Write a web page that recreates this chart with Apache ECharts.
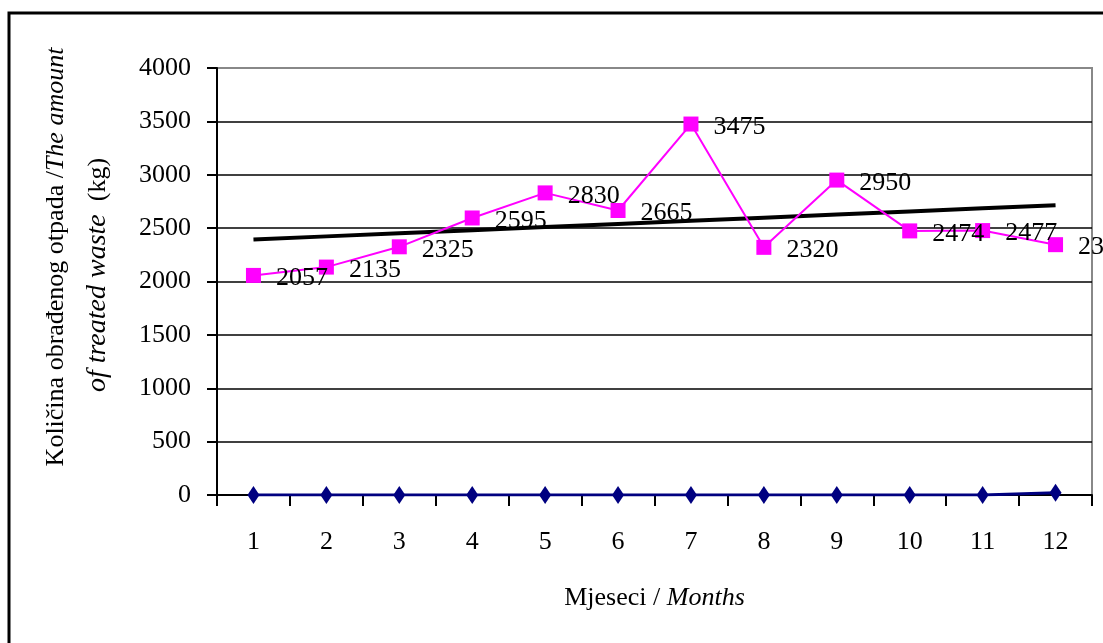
<!DOCTYPE html>
<html>
<head>
<meta charset="utf-8">
<script src="https://cdn.jsdelivr.net/npm/echarts@6/dist/echarts.min.js"></script>
<style>
  html, body { margin: 0; padding: 0; background: #fff; }
  #chart { width: 1103px; height: 643px; }
</style>
</head>
<body>
<div id="chart"></div>
<script>
  const months = ['1', '2', '3', '4', '5', '6', '7', '8', '9', '10', '11', '12']
  const treated = [2057, 2135, 2325, 2595, 2830, 2665, 3475, 2320, 2950, 2474, 2477, 2345]
  const other = [0, 0, 0, 0, 0, 0, 0, 0, 0, 0, 0, 20]
  const yTicks = [0, 500, 1000, 1500, 2000, 2500, 3000, 3500, 4000]

  // linear trend (least squares) of the treated series
  const n = treated.length
  const xs = treated.map((v, i) => i + 1)
  const mx = xs.reduce((a, b) => a + b, 0) / n
  const my = treated.reduce((a, b) => a + b, 0) / n
  let sxy = 0, sxx = 0
  xs.forEach((x, i) => { sxy += (x - mx) * (treated[i] - my); sxx += (x - mx) * (x - mx) })
  const slope = sxy / sxx
  const trend = xs.map(x => my + slope * (x - mx))

  const font = '"Liberation Serif", "Times New Roman", serif'
  const myChart = echarts.init(document.getElementById('chart'))
  const option = {
    animation: false,
    textStyle: { fontFamily: font },
    graphic: [
      {
        type: 'rect',
        shape: { x: 9, y: 13, width: 1300, height: 1000 },
        style: { fill: 'none', stroke: '#000', lineWidth: 3 },
        silent: true,
      },
    ],
    grid: {
      left: 217,
      right: 11,
      top: 68,
      bottom: 148,
      show: true,
      borderColor: '#888',
      borderWidth: 2,
      backgroundColor: '#fff',
    },
    xAxis: {
      type: 'category',
      data: months,
      boundaryGap: true,
      axisLine: { show: true, lineStyle: { color: '#000', width: 2 } },
      axisTick: { show: true, inside: false, length: 11, lineStyle: { color: '#000', width: 2 } },
      axisLabel: { color: '#000', fontSize: 26, fontFamily: font, margin: 34 },
      name: '{n|Mjeseci / }{i|Months}',
      nameLocation: 'middle',
      nameGap: 90,
      nameTextStyle: {
        rich: {
          n: { fontSize: 26, fontFamily: font, color: '#000' },
          i: { fontSize: 26, fontFamily: font, fontStyle: 'italic', color: '#000' },
        },
      },
    },
    yAxis: {
      type: 'value',
      min: 0,
      max: 4000,
      interval: 500,
      axisLine: { show: true, lineStyle: { color: '#000', width: 2 } },
      axisTick: { show: true, length: 10, lineStyle: { color: '#000', width: 2 } },
      axisLabel: {
        color: '#000',
        fontSize: 26,
        fontFamily: font,
        margin: 26,
        customValues: yTicks,
        formatter: v => String(v),
      },
      splitLine: { show: true, showMaxLine: false, lineStyle: { color: '#000', width: 1.5 } },
      name: '{n|Količina obrađenog otpada /}{i|The amount}\n{j|of treated waste}{n|  (kg)}{s| }',
      nameLocation: 'middle',
      nameRotate: 90,
      nameGap: 98,
      nameTextStyle: {
        align: 'center',
        padding: [0, 0, 0, 49],
        rich: {
          n: { fontSize: 26, fontFamily: font, color: '#000', lineHeight: 42 },
          i: { fontSize: 26, fontFamily: font, fontStyle: 'italic', color: '#000', lineHeight: 42 },
          j: { fontSize: 28, fontFamily: font, fontStyle: 'italic', color: '#000', lineHeight: 42 },
          s: { fontSize: 26, width: 36, lineHeight: 42 },
        },
      },
    },
    series: [
      {
        name: 'treated',
        type: 'line',
        data: treated,
        symbol: 'rect',
        symbolSize: 15,
        itemStyle: { color: '#FF00FF' },
        lineStyle: { color: '#FF00FF', width: 2 },
        z: 3,
        label: {
          show: true,
          position: 'right',
          distance: 15,
          offset: [0, 3],
          color: '#000',
          fontSize: 26,
          fontFamily: font,
        },
      },
      {
        name: 'trend',
        type: 'line',
        data: trend,
        symbol: 'none',
        lineStyle: { color: '#000', width: 4 },
        z: 2,
      },
      {
        name: 'other',
        type: 'line',
        data: other,
        symbol: 'diamond',
        symbolSize: [12, 18],
        itemStyle: { color: '#000080' },
        lineStyle: { color: '#000080', width: 3 },
        z: 4,
      },
    ],
  }
  myChart.setOption(option)
</script>
</body>
</html>
